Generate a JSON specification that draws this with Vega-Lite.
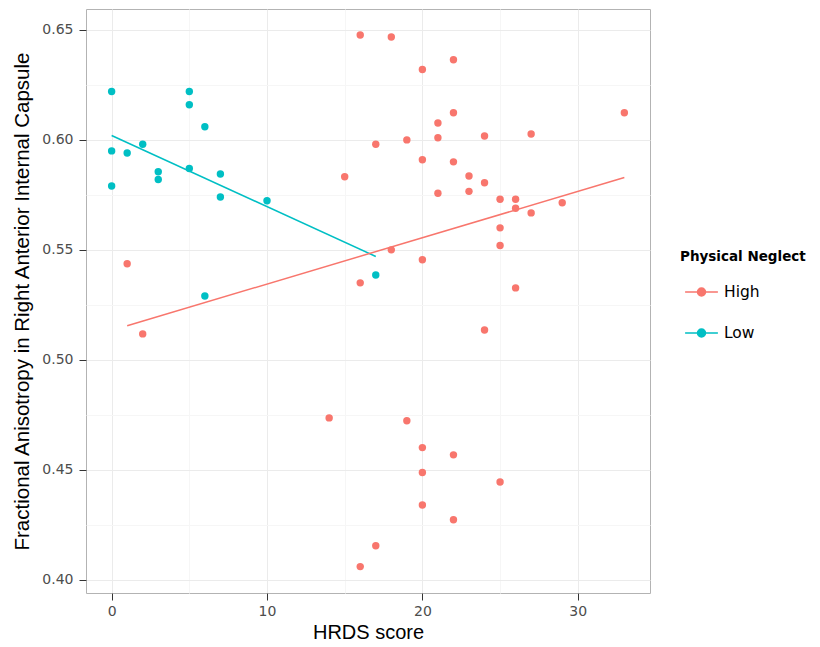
{
  "$schema": "https://vega.github.io/schema/vega-lite/v6.json",
  "width": 564,
  "height": 584,
  "autosize": {"type": "none"},
  "padding": {"left": 86, "top": 9, "right": 170, "bottom": 54},
  "background": "white",
  "config": {
    "font": "DejaVu Sans",
    "view": {"stroke": "#b3b3b3", "strokeWidth": 1}
  },
  "datasets": {
    "points": [
      {"hrds": 0, "fa": 0.622, "neglect": "Low"},
      {"hrds": 0, "fa": 0.595, "neglect": "Low"},
      {"hrds": 0, "fa": 0.579, "neglect": "Low"},
      {"hrds": 1, "fa": 0.594, "neglect": "Low"},
      {"hrds": 2, "fa": 0.598, "neglect": "Low"},
      {"hrds": 3, "fa": 0.5855, "neglect": "Low"},
      {"hrds": 3, "fa": 0.582, "neglect": "Low"},
      {"hrds": 5, "fa": 0.622, "neglect": "Low"},
      {"hrds": 5, "fa": 0.616, "neglect": "Low"},
      {"hrds": 5, "fa": 0.587, "neglect": "Low"},
      {"hrds": 6, "fa": 0.606, "neglect": "Low"},
      {"hrds": 6, "fa": 0.529, "neglect": "Low"},
      {"hrds": 7, "fa": 0.5845, "neglect": "Low"},
      {"hrds": 7, "fa": 0.574, "neglect": "Low"},
      {"hrds": 10, "fa": 0.5723, "neglect": "Low"},
      {"hrds": 17, "fa": 0.5386, "neglect": "Low"},
      {"hrds": 1, "fa": 0.5437, "neglect": "High"},
      {"hrds": 2, "fa": 0.5118, "neglect": "High"},
      {"hrds": 14, "fa": 0.4736, "neglect": "High"},
      {"hrds": 15, "fa": 0.5832, "neglect": "High"},
      {"hrds": 16, "fa": 0.6477, "neglect": "High"},
      {"hrds": 16, "fa": 0.535, "neglect": "High"},
      {"hrds": 16, "fa": 0.406, "neglect": "High"},
      {"hrds": 17, "fa": 0.598, "neglect": "High"},
      {"hrds": 17, "fa": 0.4155, "neglect": "High"},
      {"hrds": 18, "fa": 0.6468, "neglect": "High"},
      {"hrds": 18, "fa": 0.55, "neglect": "High"},
      {"hrds": 19, "fa": 0.6, "neglect": "High"},
      {"hrds": 19, "fa": 0.4723, "neglect": "High"},
      {"hrds": 20, "fa": 0.632, "neglect": "High"},
      {"hrds": 20, "fa": 0.591, "neglect": "High"},
      {"hrds": 20, "fa": 0.5455, "neglect": "High"},
      {"hrds": 20, "fa": 0.4601, "neglect": "High"},
      {"hrds": 20, "fa": 0.4488, "neglect": "High"},
      {"hrds": 20, "fa": 0.434, "neglect": "High"},
      {"hrds": 21, "fa": 0.6077, "neglect": "High"},
      {"hrds": 21, "fa": 0.601, "neglect": "High"},
      {"hrds": 21, "fa": 0.5757, "neglect": "High"},
      {"hrds": 22, "fa": 0.6364, "neglect": "High"},
      {"hrds": 22, "fa": 0.6123, "neglect": "High"},
      {"hrds": 22, "fa": 0.59, "neglect": "High"},
      {"hrds": 22, "fa": 0.4568, "neglect": "High"},
      {"hrds": 22, "fa": 0.4273, "neglect": "High"},
      {"hrds": 23, "fa": 0.5836, "neglect": "High"},
      {"hrds": 23, "fa": 0.5766, "neglect": "High"},
      {"hrds": 24, "fa": 0.6018, "neglect": "High"},
      {"hrds": 24, "fa": 0.5805, "neglect": "High"},
      {"hrds": 24, "fa": 0.5136, "neglect": "High"},
      {"hrds": 25, "fa": 0.573, "neglect": "High"},
      {"hrds": 25, "fa": 0.56, "neglect": "High"},
      {"hrds": 25, "fa": 0.552, "neglect": "High"},
      {"hrds": 25, "fa": 0.4445, "neglect": "High"},
      {"hrds": 26, "fa": 0.573, "neglect": "High"},
      {"hrds": 26, "fa": 0.5689, "neglect": "High"},
      {"hrds": 26, "fa": 0.5327, "neglect": "High"},
      {"hrds": 27, "fa": 0.6027, "neglect": "High"},
      {"hrds": 27, "fa": 0.5668, "neglect": "High"},
      {"hrds": 29, "fa": 0.5714, "neglect": "High"},
      {"hrds": 33, "fa": 0.6123, "neglect": "High"}
    ],
    "fit": [
      {"hrds": 0, "fa": 0.602, "neglect": "Low"},
      {"hrds": 17, "fa": 0.547, "neglect": "Low"},
      {"hrds": 1, "fa": 0.5155, "neglect": "High"},
      {"hrds": 33, "fa": 0.5829, "neglect": "High"}
    ]
  },
  "encoding": {
    "x": {
      "field": "hrds", "type": "quantitative",
      "scale": {"domain": [-1.65, 34.65], "nice": false, "zero": false},
      "axis": {
        "title": "HRDS score", "titleFontSize": 20, "titleFontWeight": "normal", "titleColor": "#000000", "titlePadding": 4,
        "titleFont": "Liberation Sans",
        "values": [0, 5, 10, 15, 20, 25, 30],
        "labelExpr": "datum.value % 10 === 0 ? datum.label : ''",
        "labelFontSize": 14, "labelColor": "#4d4d4d", "labelPadding": 4,
        "domain": false, "tickColor": "#333333", "tickSize": 7, "tickWidth": 1,
        "tickOpacity": {"condition": {"test": "datum.value % 10 === 0", "value": 1}, "value": 0},
        "grid": true,
        "gridColor": {"condition": {"test": "datum.value % 10 === 0", "value": "#ebebeb"}, "value": "#f6f6f6"},
        "gridWidth": 1
      }
    },
    "y": {
      "field": "fa", "type": "quantitative",
      "scale": {"domain": [0.394, 0.6595], "nice": false, "zero": false},
      "axis": {
        "title": "Fractional Anisotropy in Right Anterior Internal Capsule", "titleFontSize": 20.5, "titleFontWeight": "normal", "titleColor": "#000000", "titlePadding": 9,
        "titleFont": "Liberation Sans",
        "values": [0.4, 0.425, 0.45, 0.475, 0.5, 0.525, 0.55, 0.575, 0.6, 0.625, 0.65],
        "format": ".2f",
        "labelExpr": "abs(datum.value * 20 - round(datum.value * 20)) < 0.001 ? datum.label : ''",
        "labelFontSize": 14, "labelColor": "#4d4d4d", "labelPadding": 6,
        "domain": false, "tickColor": "#333333", "tickSize": 7, "tickWidth": 1,
        "tickOpacity": {"condition": {"test": "abs(datum.value * 20 - round(datum.value * 20)) < 0.001", "value": 1}, "value": 0},
        "grid": true,
        "gridColor": {"condition": {"test": "abs(datum.value * 20 - round(datum.value * 20)) < 0.001", "value": "#ebebeb"}, "value": "#f6f6f6"},
        "gridWidth": 1
      }
    },
    "color": {
      "field": "neglect", "type": "nominal",
      "scale": {"domain": ["High", "Low"], "range": ["#F8766D", "#00BFC4"]},
      "legend": {
        "title": "Physical Neglect", "titleFontSize": 13.5, "titleFontWeight": "bold", "titleColor": "#000000", "titlePadding": 7,
        "labelFontSize": 15.5, "labelColor": "#000000", "labelOffset": 1,
        "orient": "none", "legendX": 594, "legendY": 241,
        "symbolType": "M -0.8 0 L 0.8 0 M 0.195 0 A 0.195 0.195 0 1 1 -0.195 0 A 0.195 0.195 0 1 1 0.195 0 Z",
        "symbolSize": 1681, "symbolStrokeWidth": 1.5, "rowPadding": 11,
        "encode": {"symbols": {"update": {"stroke": {"scale": "color", "field": "value"}, "fill": {"scale": "color", "field": "value"}, "strokeWidth": {"value": 1.5}, "opacity": {"value": 1}}}}
      }
    }
  },
  "layer": [
    {
      "data": {"name": "points"},
      "mark": {"type": "point", "filled": true, "size": 55, "opacity": 1}
    },
    {
      "data": {"name": "fit"},
      "mark": {"type": "line", "strokeWidth": 1.5}
    }
  ]
}
